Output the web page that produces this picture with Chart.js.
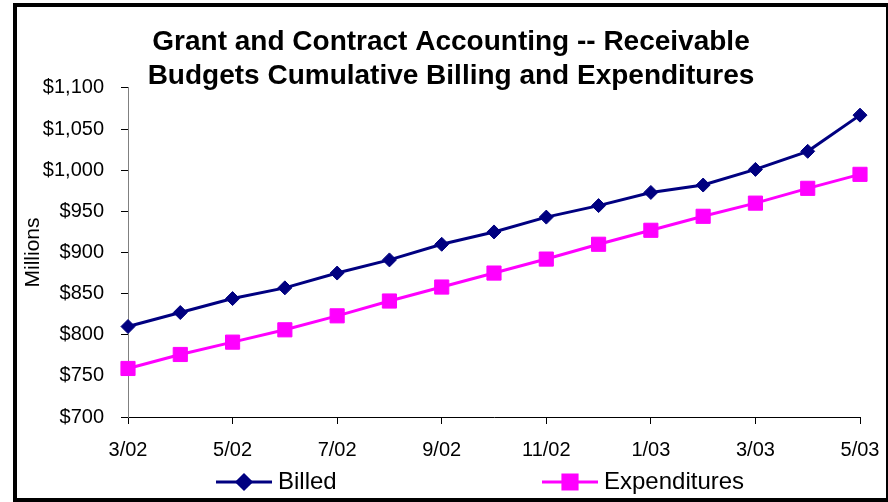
<!DOCTYPE html>
<html>
<head>
<meta charset="utf-8">
<script src="https://cdn.jsdelivr.net/npm/chart.js@4"></script>
<style>
  html, body { margin: 0; padding: 0; background: #fff; }
  #wrap { position: relative; width: 888px; height: 502px; overflow: hidden; }
  #frame {
    position: absolute; left: 13px; top: 3px; width: 877px; height: 499px;
    border: 4px solid #000; box-sizing: border-box; pointer-events: none;
  }
  canvas { position: absolute; left: 0; top: 0; }
</style>
</head>
<body>
<div id="wrap">
  <canvas id="billingChart" width="888" height="502"></canvas>
  <div id="frame"></div>
</div>
<script>
// months on the category axis (only every other one is labelled)
const months = ['3/02', '4/02', '5/02', '6/02', '7/02', '8/02', '9/02', '10/02',
                '11/02', '12/02', '1/03', '2/03', '3/03', '4/03', '5/03'];
// cumulative values, $ millions
const billed = [810, 827, 844, 857, 875, 891, 910, 925, 943, 957, 973, 982, 1001, 1023, 1067];
const expenditures = [759, 776, 791, 806, 823, 841, 858, 875, 892, 910, 927, 944, 960, 978, 995];
const yTicks = [700, 750, 800, 850, 900, 950, 1000, 1050, 1100];

const seriesNames = ['Billed', 'Expenditures'];
const seriesColors = ['#000080', '#ff00ff'];

const FONT = '"Liberation Sans", Arial, sans-serif';

// legend under the x axis: line + marker + label
const bottomLegend = {
  id: 'bottomLegend',
  afterDraw(chart) {
    const ctx = chart.ctx;
    const y = chart.chartArea.bottom + 65;
    const items = [
      { x: 216, style: 'rectRot', r: 7 },
      { x: 542, style: 'rect', r: 10 }
    ];
    ctx.save();
    items.forEach((it, i) => {
      ctx.strokeStyle = seriesColors[i];
      ctx.lineWidth = 3;
      ctx.beginPath();
      ctx.moveTo(it.x, y);
      ctx.lineTo(it.x + 56, y);
      ctx.stroke();
      ctx.fillStyle = seriesColors[i];
      Chart.helpers.drawPoint(ctx, { pointStyle: it.style, radius: it.r, borderWidth: 1, rotation: 0 }, it.x + 28, y);
      ctx.fill();
      ctx.fillStyle = '#000';
      ctx.font = '24px ' + FONT;
      ctx.textBaseline = 'middle';
      ctx.textAlign = 'left';
      ctx.fillText(seriesNames[i], it.x + 62, y);
    });
    ctx.restore();
  }
};

const ctx = document.getElementById('billingChart').getContext('2d');
new Chart(ctx, {
  type: 'line',
  data: {
    labels: months,
    datasets: [{
      label: seriesNames[0],
      data: billed,
      borderColor: seriesColors[0],
      backgroundColor: seriesColors[0],
      borderWidth: 3,
      pointStyle: 'rectRot',
      pointRadius: 7,
      pointBorderWidth: 1,
      tension: 0
    }, {
      label: seriesNames[1],
      data: expenditures,
      borderColor: seriesColors[1],
      backgroundColor: seriesColors[1],
      borderWidth: 3,
      pointStyle: 'rect',
      pointRadius: 10,
      pointBorderWidth: 1,
      tension: 0
    }]
  },
  options: {
    responsive: false,
    animation: false,
    layout: { padding: { left: 18, right: 4, top: 0, bottom: 46 } },
    plugins: {
      legend: { display: false },
      tooltip: { enabled: false },
      title: {
        display: true,
        text: ['Grant and Contract Accounting -- Receivable', 'Budgets Cumulative Billing and Expenditures'],
        color: '#000',
        font: { family: FONT, size: 28, weight: 'bold', lineHeight: 1.214 },
        padding: { top: 25, bottom: -5 }
      }
    },
    scales: {
      x: {
        offset: false,
        afterFit: s => { s.height = 39; s.paddingRight = 28; },
        border: { display: true, color: '#000', width: 1 },
        grid: {
          drawOnChartArea: false,
          drawTicks: true,
          tickLength: 7,
          color: c => (c.index % 2 === 0 ? '#000' : 'rgba(0,0,0,0)')
        },
        ticks: {
          autoSkip: false,
          maxRotation: 0,
          padding: 14,
          color: '#000',
          font: { family: FONT, size: 20 },
          callback: (v, i) => (i % 2 === 0 ? months[i] : '')
        }
      },
      y: {
        min: yTicks[0],
        max: yTicks[yTicks.length - 1],
        afterFit: s => { s.width = 110; },
        afterBuildTicks: s => { s.ticks = yTicks.map(v => ({ value: v })); },
        border: { display: true, color: '#808080', width: 1 },
        grid: { drawOnChartArea: false, drawTicks: true, tickLength: 7, color: '#000' },
        ticks: {
          padding: 17,
          color: '#000',
          font: { family: FONT, size: 20 },
          callback: v => '$' + v.toLocaleString('en-US')
        },
        title: {
          display: true,
          text: 'Millions',
          color: '#000',
          font: { family: FONT, size: 21 },
          padding: { top: 3, bottom: 0 }
        }
      }
    }
  },
  plugins: [bottomLegend]
});
</script>
</body>
</html>
